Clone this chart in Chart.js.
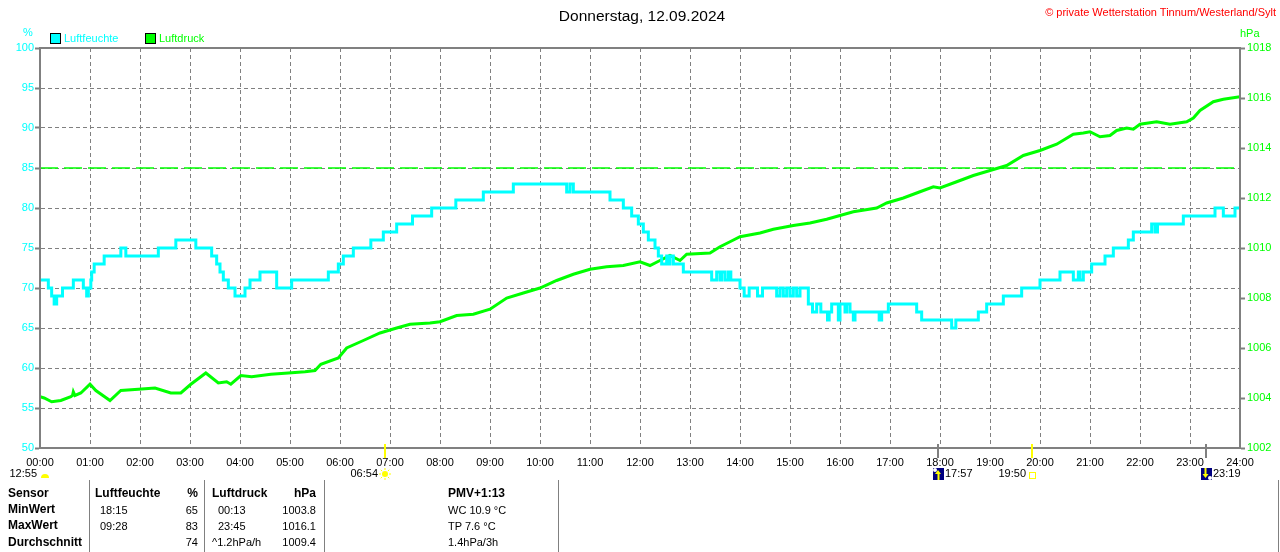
<!DOCTYPE html>
<html>
<head>
<meta charset="utf-8">
<script src="https://cdn.jsdelivr.net/npm/chart.js@4.4.0/dist/chart.umd.min.js"></script>
<style>
  body { margin: 0; background: #fff; font-family: "Liberation Sans", Arial, sans-serif; }
  #wrap { position: relative; width: 1280px; height: 552px; overflow: hidden; }
  #chart { position: absolute; left: 0; top: 0; }
  .t { position: absolute; white-space: nowrap; font-size: 11px; line-height: 14px; color: #000; }
  .b { font-weight: bold; font-size: 12px; }
  .r { text-align: right; }
  .box { position: absolute; width: 9px; height: 9px; border: 1px solid #000; }
  .vl { position: absolute; width: 1px; background: #808080; top: 480px; height: 72px; }
</style>
</head>
<body>
<div id="wrap">
  <canvas id="chart" width="1280" height="552"></canvas>

  <div class="t" style="left:0;width:1284px;text-align:center;top:7px;font-size:15.5px;line-height:18px;">Donnerstag, 12.09.2024</div>
  <div class="t r" style="right:4px;top:5px;color:#ff0000;">© private Wetterstation Tinnum/Westerland/Sylt</div>
  <div class="t" style="left:23px;top:25px;color:#00ffff;">%</div>
  <div class="t" style="left:1240px;top:26px;color:#00ff00;">hPa</div>

  <div class="box" style="left:50px;top:33px;background:#00ffff;"></div>
  <div class="t" style="left:64px;top:31px;color:#00ffff;">Luftfeuchte</div>
  <div class="box" style="left:145px;top:33px;background:#00ff00;"></div>
  <div class="t" style="left:159px;top:31px;color:#00ff00;">Luftdruck</div>

  <div class="vl" style="left:89px;"></div>
  <div class="vl" style="left:204px;"></div>
  <div class="vl" style="left:324px;"></div>
  <div class="vl" style="left:558px;"></div>
  <div class="vl" style="left:1278px;"></div>

  <div class="t b" style="left:8px;top:486px;">Sensor</div>
  <div class="t b" style="left:95px;top:486px;">Luftfeuchte</div>
  <div class="t b r" style="left:150px;width:48px;top:486px;">%</div>
  <div class="t b" style="left:212px;top:486px;">Luftdruck</div>
  <div class="t b r" style="left:260px;width:56px;top:486px;">hPa</div>
  <div class="t b" style="left:448px;top:486px;">PMV+1:13</div>

  <div class="t b" style="left:8px;top:502px;">MinWert</div>
  <div class="t" style="left:100px;top:503px;">18:15</div>
  <div class="t r" style="left:150px;width:48px;top:503px;">65</div>
  <div class="t" style="left:218px;top:503px;">00:13</div>
  <div class="t r" style="left:260px;width:56px;top:503px;">1003.8</div>
  <div class="t" style="left:448px;top:503px;">WC 10.9 °C</div>

  <div class="t b" style="left:8px;top:518px;">MaxWert</div>
  <div class="t" style="left:100px;top:519px;">09:28</div>
  <div class="t r" style="left:150px;width:48px;top:519px;">83</div>
  <div class="t" style="left:218px;top:519px;">23:45</div>
  <div class="t r" style="left:260px;width:56px;top:519px;">1016.1</div>
  <div class="t" style="left:448px;top:519px;">TP 7.6 °C</div>

  <div class="t b" style="left:8px;top:535px;">Durchschnitt</div>
  <div class="t r" style="left:150px;width:48px;top:535px;">74</div>
  <div class="t" style="left:212px;top:535px;">^1.2hPa/h</div>
  <div class="t r" style="left:260px;width:56px;top:535px;">1009.4</div>
  <div class="t" style="left:448px;top:535px;">1.4hPa/3h</div>
</div>

<script>
// Luftfeuchte (%), minutes since midnight where the value changes
const humMinutes = [0, 10, 14, 17, 20, 27, 40, 52, 56, 58, 61, 62, 65, 77, 97, 103, 142, 163, 187, 206,
  212, 216, 220, 226, 234, 246, 252, 264, 284, 302, 346, 358, 364, 376, 397, 412, 428, 447, 470, 499,
  532, 568, 632, 636, 640, 684, 700, 710, 718, 724, 730, 738, 742, 746, 752, 754, 756, 760, 772, 806,
  812, 816, 818, 822, 826, 829, 840, 845, 851, 861, 867, 884, 888, 892, 896, 900, 904, 908, 912, 922,
  927, 932, 937, 945, 947, 950, 958, 960, 966, 968, 972, 976, 978, 1007, 1010, 1018, 1052, 1058, 1094, 1099,
  1126, 1136, 1156, 1178, 1200, 1224, 1240, 1246, 1248, 1252, 1262, 1278, 1288, 1306, 1312, 1334, 1338, 1341, 1372, 1410,
  1420, 1434, 1440];
const humValues = [71, 70, 69, 68, 69, 70, 71, 70, 69, 70, 71, 72, 73, 74, 75, 74, 75, 76, 75, 74,
  73, 72, 71, 70, 69, 70, 71, 72, 70, 71, 72, 73, 74, 75, 76, 77, 78, 79, 80, 81,
  82, 83, 82, 83, 82, 81, 80, 79, 78, 77, 76, 75, 74, 73, 74, 73, 74, 73, 72, 71,
  72, 71, 72, 71, 72, 71, 70, 69, 70, 69, 70, 69, 70, 69, 70, 69, 70, 69, 70, 68,
  67, 68, 67, 66, 67, 68, 66, 68, 67, 68, 67, 66, 67, 66, 67, 68, 67, 66, 65, 66,
  67, 68, 69, 70, 71, 72, 71, 72, 71, 72, 73, 74, 75, 76, 77, 78, 77, 78, 79, 80,
  79, 80, 80];

// Luftdruck (hPa)
const presMinutes = [0, 5, 14, 25, 37, 39, 40, 42, 49, 60, 67, 84, 97, 118, 138, 157, 169, 181, 199, 214,
  224, 229, 241, 254, 277, 298, 318, 330, 337, 358, 368, 388, 408, 428, 444, 468, 480, 500, 520, 540,
  560, 580, 600, 620, 640, 660, 680, 700, 720, 732, 744, 756, 768, 776, 804, 816, 828, 840, 864, 880,
  904, 924, 944, 960, 976, 1004, 1016, 1036, 1056, 1072, 1080, 1100, 1120, 1140, 1160, 1180, 1200, 1220, 1240, 1252,
  1260, 1272, 1284, 1292, 1304, 1312, 1320, 1340, 1356, 1376, 1384, 1392, 1408, 1420, 1440];
const presValues = [1004.05, 1004.0, 1003.85, 1003.9, 1004.05, 1004.1, 1004.25, 1004.1, 1004.2, 1004.55, 1004.3, 1003.9, 1004.3, 1004.35, 1004.4, 1004.2, 1004.2, 1004.55, 1005.0, 1004.6,
  1004.65, 1004.55, 1004.9, 1004.85, 1004.95, 1005.0, 1005.05, 1005.1, 1005.35, 1005.6, 1006.0, 1006.3, 1006.6, 1006.8, 1006.95, 1007.0, 1007.05, 1007.3, 1007.35, 1007.55,
  1008.0, 1008.2, 1008.4, 1008.7, 1008.95, 1009.15, 1009.25, 1009.3, 1009.45, 1009.3, 1009.5, 1009.7, 1009.5, 1009.75, 1009.8, 1010.05, 1010.25, 1010.45, 1010.6, 1010.75,
  1010.9, 1011.0, 1011.15, 1011.3, 1011.45, 1011.6, 1011.8, 1012.0, 1012.25, 1012.45, 1012.4, 1012.65, 1012.9, 1013.1, 1013.3, 1013.7, 1013.9, 1014.15, 1014.55, 1014.6,
  1014.65, 1014.45, 1014.5, 1014.7, 1014.8, 1014.75, 1014.95, 1015.05, 1014.95, 1015.05, 1015.2, 1015.5, 1015.85, 1015.95, 1016.05];

// reference pressure line (dashed)
const refPressure = 1013.2;

// sun / moon events under the time axis
const eventMinutes = [0, 414, 1077, 1190, 1399];
const eventLabels = ['12:55', '06:54', '17:57', '19:50', '23:19'];
const eventKinds = ['moon', 'sunrise', 'moonUp', 'sunset', 'moonDown'];

const FONT = '"Liberation Sans", Arial, sans-serif';
const GRID = '#808080';

function toPoints(xs, ys) {
  return xs.map((x, i) => ({ x, y: ys[i] }));
}

// gray frame around the plot area
const framePlugin = {
  id: 'frame',
  afterDatasetsDraw(chart) {
    const { ctx, chartArea: a } = chart;
    ctx.save();
    ctx.strokeStyle = GRID;
    ctx.lineWidth = 2;
    ctx.strokeRect(a.left, a.top, a.right - a.left, a.bottom - a.top);
    ctx.restore();
  }
};

// sunrise / sunset / moon markers
const eventsPlugin = {
  id: 'events',
  afterDraw(chart) {
    const { ctx, chartArea: a } = chart;
    const xs = chart.scales.x;
    const yText = a.bottom + 26;
    ctx.save();
    ctx.font = '11px ' + FONT;
    ctx.textBaseline = 'middle';
    eventMinutes.forEach((m, i) => {
      const x = Math.round(xs.getPixelForValue(m));
      const kind = eventKinds[i];
      const label = eventLabels[i];
      if (kind !== 'moon') {
        ctx.strokeStyle = (kind === 'sunrise' || kind === 'sunset') ? '#ffff00' : GRID;
        ctx.lineWidth = 2;
        ctx.beginPath();
        ctx.moveTo(x, a.bottom - 4);
        ctx.lineTo(x, a.bottom + 10);
        ctx.stroke();
      }
      ctx.fillStyle = '#000';
      if (kind === 'moon') {
        ctx.textAlign = 'right';
        ctx.fillText(label, x - 3, yText);
        ctx.fillStyle = '#ffff00';
        ctx.beginPath();
        ctx.ellipse(x + 5, yText + 4, 4, 4, 0, Math.PI, 0);
        ctx.fill();
      } else if (kind === 'sunrise') {
        ctx.textAlign = 'right';
        ctx.fillText(label, x - 7, yText);
        ctx.fillStyle = '#ffff00';
        ctx.strokeStyle = '#ffff00';
        ctx.beginPath();
        ctx.arc(x, yText, 3, 0, Math.PI * 2);
        ctx.fill();
        ctx.lineWidth = 1;
        for (let k = 0; k < 8; k++) {
          const ang = k * Math.PI / 4;
          ctx.beginPath();
          ctx.moveTo(x + Math.cos(ang) * 4, yText + Math.sin(ang) * 4);
          ctx.lineTo(x + Math.cos(ang) * 6, yText + Math.sin(ang) * 6);
          ctx.stroke();
        }
      } else if (kind === 'sunset') {
        ctx.textAlign = 'right';
        ctx.fillText(label, x - 6, yText);
        ctx.strokeStyle = '#ffff00';
        ctx.lineWidth = 1;
        ctx.strokeRect(x - 2.5, yText - 1.5, 6, 6);
      } else {
        ctx.fillStyle = '#000080';
        ctx.fillRect(x - 5, yText - 6, 11, 12);
        ctx.fillStyle = '#ffffff';
        ctx.beginPath();
        if (kind === 'moonUp') ctx.arc(x - 3, yText - 4, 2, 0, Math.PI * 2);
        else ctx.arc(x + 4, yText + 4, 2, 0, Math.PI * 2);
        ctx.fill();
        ctx.fillStyle = '#ffff00';
        ctx.beginPath();
        if (kind === 'moonUp') {
          ctx.moveTo(x, yText - 4); ctx.lineTo(x + 3, yText); ctx.lineTo(x - 3, yText);
          ctx.fill();
          ctx.fillRect(x - 0.5, yText, 2, 6);
        } else {
          ctx.fillRect(x - 1.5, yText - 6, 2, 6);
          ctx.moveTo(x - 3.5, yText); ctx.lineTo(x + 2.5, yText); ctx.lineTo(x - 0.5, yText + 4);
          ctx.fill();
        }
        ctx.fillStyle = '#000';
        ctx.textAlign = 'left';
        ctx.fillText(label, x + 7, yText);
      }
    });
    ctx.restore();
  }
};

const ctx = document.getElementById('chart').getContext('2d');
new Chart(ctx, {
  type: 'line',
  data: {
    datasets: [
      {
        label: 'Luftfeuchte',
        data: toPoints(humMinutes, humValues),
        yAxisID: 'y',
        borderColor: '#00ffff',
        borderWidth: 3,
        pointRadius: 0,
        stepped: true,
        borderJoinStyle: 'miter',
        borderCapStyle: 'butt'
      },
      {
        label: 'Luftdruck',
        data: toPoints(presMinutes, presValues),
        yAxisID: 'y1',
        borderColor: '#00ff00',
        borderWidth: 3,
        pointRadius: 0,
        tension: 0
      },
      {
        label: 'Referenz',
        data: toPoints([0, 1440], [refPressure, refPressure]),
        yAxisID: 'y1',
        borderColor: '#00ff00',
        borderWidth: 1.5,
        borderDash: [18, 6],
        pointRadius: 0
      }
    ]
  },
  options: {
    responsive: false,
    animation: false,
    devicePixelRatio: 1,
    layout: { padding: { top: 48, left: 0, right: 0, bottom: 0 } },
    plugins: {
      legend: { display: false },
      title: { display: false },
      tooltip: { enabled: false }
    },
    scales: {
      x: {
        type: 'linear',
        min: 0,
        max: 1440,
        afterFit: s => { s.height = 104; },
        afterBuildTicks: s => {
          s.ticks = [];
          for (let m = 0; m <= 1440; m += 60) s.ticks.push({ value: m });
        },
        ticks: {
          color: '#000',
          font: { family: FONT, size: 11 },
          padding: 8,
          maxRotation: 0,
          autoSkip: false,
          callback: v => String(v / 60).padStart(2, '0') + ':00'
        },
        grid: { color: GRID, lineWidth: 1, drawTicks: false },
        border: { display: true, color: GRID, width: 2, dash: [4, 3] }
      },
      y: {
        position: 'left',
        min: 50,
        max: 100,
        afterFit: s => { s.width = 40; },
        ticks: {
          stepSize: 5,
          color: '#00ffff',
          font: { family: FONT, size: 11 },
          padding: 1
        },
        grid: { color: GRID, lineWidth: 1, tickLength: 5, tickWidth: 2, tickColor: GRID, tickBorderDash: [] },
        border: { display: true, color: GRID, width: 2, dash: [4, 3] }
      },
      y1: {
        position: 'right',
        min: 1002,
        max: 1018,
        afterFit: s => { s.width = 40; },
        ticks: {
          stepSize: 2,
          color: '#00ff00',
          font: { family: FONT, size: 11 },
          padding: 2,
          callback: v => String(v)
        },
        grid: { drawOnChartArea: false, tickLength: 5, tickWidth: 2, tickColor: GRID, tickBorderDash: [] },
        border: { display: true, color: GRID, width: 2 }
      }
    }
  },
  plugins: [framePlugin, eventsPlugin]
});
</script>
</body>
</html>
